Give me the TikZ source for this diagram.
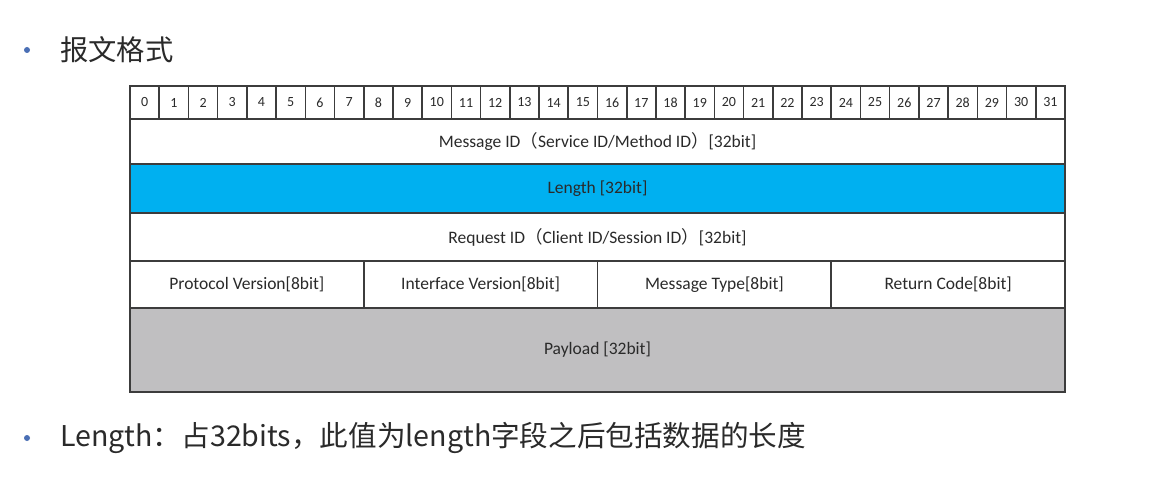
\documentclass[tikz,border=0pt]{standalone}
\usepackage{fontspec}
\setmainfont{Carlito}
\newfontfamily\cjk{Noto Sans CJK SC}
\definecolor{rule}{HTML}{3C3C3C}
\definecolor{ink}{HTML}{2A2A2A}
\definecolor{lenblue}{HTML}{00B0F0}
\definecolor{paygray}{HTML}{C0BFC1}
\definecolor{dotblue}{HTML}{4A6FB5}
\newcommand{\lpar}{{\cjk（}}
\newcommand{\rpar}{{\cjk）}}
\begin{document}
\begin{tikzpicture}[x=1pt,y=-1pt,
  cellbase/.style={draw=rule,line width=1.6pt,inner sep=0pt,outer sep=0pt,text=ink},
  bitcell/.style={cellbase,minimum width=29.21875pt,minimum height=33pt,font=\fontsize{14}{14}\selectfont},
  rowcell/.style={cellbase,minimum width=935pt,font=\fontsize{17.5}{17.5}\selectfont},
  fieldcell/.style={cellbase,minimum width=233.75pt,minimum height=47pt,font=\fontsize{17.5}{17.5}\selectfont},
  bulletdot/.style={circle,fill=dotblue,inner sep=0pt,minimum size=6pt},
  heading/.style={anchor=west,inner sep=0pt,text=ink,font=\cjk\fontsize{28.3}{28.3}\selectfont},
  note/.style={anchor=west,inner sep=0pt,text=ink,font=\cjk\fontsize{28.6}{28.6}\selectfont}]
\useasboundingbox[fill=white] (0,0) rectangle (1157,494);

% heading
\node[bulletdot] (dot1) at (27,50) {};
\node[heading] (title) at (60,50) {报文格式};

% bit index row
\foreach \i in {0,...,31}
  \node[bitcell] (b\i) at ({130+29.21875*(\i+0.5)},102.5) {\i};

% 32-bit rows
\node[rowcell,minimum height=45pt,anchor=north west] (msgid) at (130,119)
  {Message ID\lpar Service ID/Method ID\rpar [32bit]};
\node[rowcell,minimum height=49pt,fill=lenblue,anchor=north west] (len) at (130,164)
  {Length [32bit]};
\node[rowcell,minimum height=48pt,anchor=north west] (reqid) at (130,213)
  {Request ID\lpar Client ID/Session ID\rpar [32bit]};

% 8-bit fields
\node[fieldcell,anchor=north west] (proto) at (130,261) {Protocol Version[8bit]};
\node[fieldcell,anchor=north west] (iface) at (363.75,261) {Interface Version[8bit]};
\node[fieldcell,anchor=north west] (mtype) at (597.5,261) {Message Type[8bit]};
\node[fieldcell,anchor=north west] (rcode) at (831.25,261) {Return Code[8bit]};

% payload
\node[rowcell,minimum height=84pt,fill=paygray,anchor=north west] (payload) at (130,308)
  {Payload [32bit]};

% note
\node[bulletdot] (dot2) at (27,438) {};
\node[note] (lennote) at (60,438) {Length：占32bits，此值为length字段之后包括数据的长度};
\end{tikzpicture}
\end{document}
